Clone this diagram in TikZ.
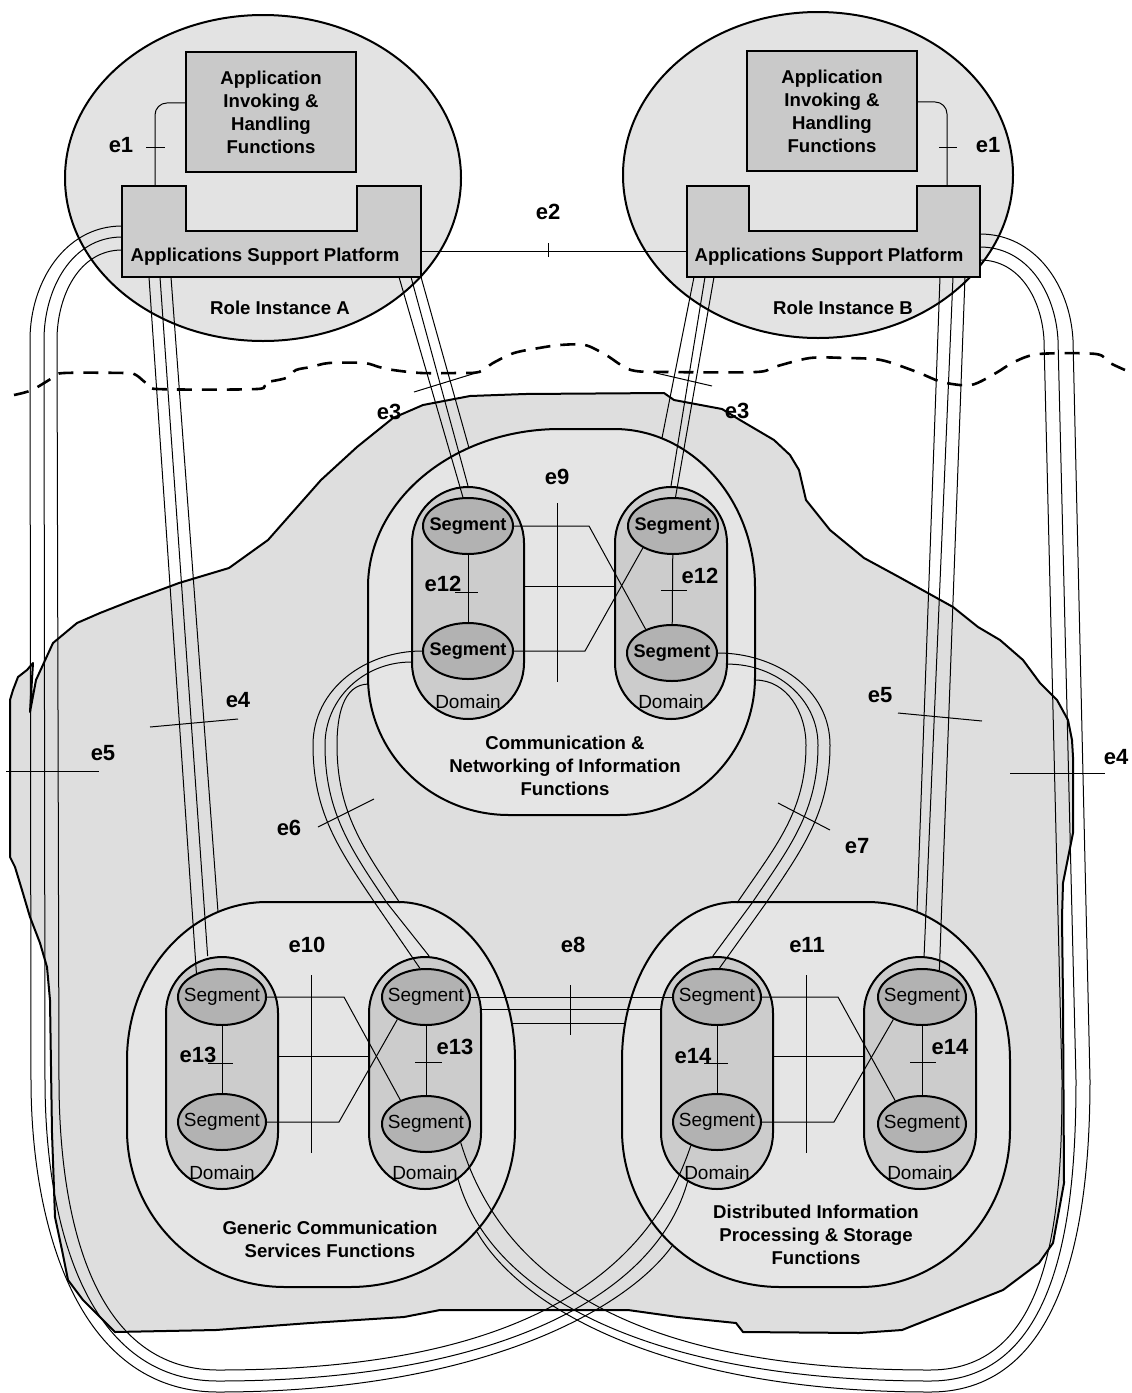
\documentclass[tikz,border=0pt]{standalone}
\usepackage{fontspec}
\setmainfont{Liberation Sans}
\usepackage{tikz}
\usetikzlibrary{shapes.geometric}
\definecolor{RoleGray}{gray}{0.89}
\definecolor{BlobGray}{gray}{0.87}
\definecolor{HullGray}{gray}{0.9}
\definecolor{BoxGray}{gray}{0.79}
\definecolor{DomainGray}{gray}{0.8}
\definecolor{SegGray}{gray}{0.7}
\newcommand{\capfont}{\fontsize{9.3}{11.5}\selectfont\bfseries}
\newcommand{\elfont}{\fontsize{11}{13}\selectfont\bfseries}
\newcommand{\segfont}{\fontsize{9.5}{11}\selectfont}
\newcommand{\segbfont}{\fontsize{9.1}{11}\selectfont\bfseries}
\newcommand{\seglabel}{\makebox[0pt]{Segment}}

\begin{document}
\begin{tikzpicture}[
  x=0.5pt, y=0.5pt, yscale=-1,
  role/.style={ellipse, draw, line width=1pt, fill=RoleGray, minimum height=163pt, inner sep=0pt},
  appbox/.style={rectangle, draw, line width=1pt, fill=BoxGray, minimum width=85pt, minimum height=60pt, font=\capfont, align=center},
  asp/.style={draw, line width=1pt, fill=DomainGray},
  blob/.style={draw, line width=1pt, fill=BlobGray, line join=round},
  hull/.style={draw, line width=1pt, fill=HullGray},
  dombox/.style={rectangle, rounded corners=28pt, draw, line width=1pt, fill=DomainGray, minimum width=56pt, minimum height=116pt},
  seg/.style={ellipse, draw, line width=1pt, fill=SegGray, minimum width=44pt, minimum height=28pt, inner sep=0pt, font=\segfont},
  segb/.style={seg, minimum width=45pt, font=\segbfont},
  wire/.style={line width=0.5pt},
  wave/.style={line width=1.3pt, dash pattern=on 7.5pt off 5pt},
  elabel/.style={font=\elfont, inner sep=0pt},
  caption/.style={font=\capfont, align=center, inner sep=0pt},
  domlabel/.style={font=\segfont, inner sep=0pt}
]
\useasboundingbox (0,0) rectangle (1131,1393);

% Role instances
\node[role, minimum width=198pt] (riA) at (263,178) {};
\node[role, minimum width=195pt] (riB) at (818,175) {};
\node[caption] (riAl) at (280,308) {Role Instance A};
\node[caption] (riBl) at (843,308) {Role Instance B};

% Shared region
\draw[blob] plot coordinates {(423,405) (470,396) (525,394) (664,393) (674,400) (722,409) (740,420) (774,440) (790,455) (799,470) (806,500) (830,530) (864,558) (899,577) (953,607) (978,627) (1000,640) (1023,660) (1040,683) (1057,700) (1068,720) (1072,740) (1073,757) (1073,833) (1063,883) (1062,917) (1063,1000) (1064,1183) (1053,1243) (1039,1263) (1003,1290) (960,1307) (902,1330) (859,1333) (743,1332) (736,1323) (678,1317) (628,1310) (440,1310) (404,1317) (310,1323) (216,1330) (115,1332) (83,1300) (68,1280) (62,1250) (55,1217) (52,1133) (50,1000) (47,967) (40,943) (30,917) (22,890) (15,867) (10,857) (10,700) (13,690) (18,677) (27,670) (33,663) (30,712) (36,680) (53,643) (77,623) (100,613) (133,600) (179,583) (229,568) (268,540) (321,480) (357,447) (393,418)} -- cycle;

% Boundary
\draw[wave] plot[smooth] coordinates {(14,395) (32,390) (54,377) (64,373) (125,373) (136,375) (146,383) (157,389) (257,389) (264,383) (286,378) (296,370) (311,367) (329,363) (364,363) (379,367) (393,370) (421,373) (457,373) (479,372) (493,363) (514,353) (539,348) (560,345) (585,345) (606,355) (631,370) (667,372) (756,372) (774,367) (810,358) (846,358) (881,360) (917,372) (942,382) (971,385) (996,373) (1014,362) (1039,354) (1096,354) (1110,363) (1125,370)};

% Function groups
\draw[hull] (368,677) -- (368,587) arc[start angle=180, end angle=270, x radius=192, y radius=158] -- (614,429) arc[start angle=270, end angle=360, x radius=141, y radius=158] -- (755,677) arc[start angle=0, end angle=90, x radius=136, y radius=138] -- (509,815) arc[start angle=90, end angle=180, x radius=141, y radius=138] -- cycle;
\draw[hull] (127,1130) -- (127,1060) arc[start angle=180, end angle=270, x radius=140, y radius=158] -- (398,902) arc[start angle=270, end angle=360, x radius=117, y radius=158] -- (515,1130) arc[start angle=0, end angle=90, x radius=165, y radius=157] -- (285,1287) arc[start angle=90, end angle=180, x radius=158, y radius=157] -- cycle;
\draw[hull] (622,1130) -- (622,1060) arc[start angle=180, end angle=270, x radius=115, y radius=158] -- (867,902) arc[start angle=270, end angle=360, x radius=143, y radius=158] -- (1010,1130) arc[start angle=0, end angle=90, x radius=150, y radius=157] -- (780,1287) arc[start angle=90, end angle=180, x radius=158, y radius=157] -- cycle;
\node[caption] (cnif) at (565,766) {Communication \&\\Networking of Information\\Functions};
\node[caption] (gcsf) at (330,1239) {Generic Communication\\Services Functions};
\node[caption] (dipsf) at (816,1235) {Distributed Information\\Processing \& Storage\\Functions};

% Domains
\node[dombox] (dCL) at (468,603) {};
\node[dombox] (dCR) at (671,603) {};
\node[dombox] (dGL) at (222,1073) {};
\node[dombox] (dGR) at (425,1073) {};
\node[dombox] (dPL) at (717,1073) {};
\node[dombox] (dPR) at (920,1073) {};
\node[domlabel] (dCLl) at (468,702) {Domain};
\node[domlabel] (dCRl) at (671,702) {Domain};
\node[domlabel] (dGLl) at (222,1173) {Domain};
\node[domlabel] (dGRl) at (425,1173) {Domain};
\node[domlabel] (dPLl) at (717,1173) {Domain};
\node[domlabel] (dPRl) at (920,1173) {Domain};

% Segments
\node[segb] (sCLt) at (468,526) {\seglabel};
\node[segb] (sCLb) at (468,651) {\seglabel};
\node[segb] (sCRt) at (673,526) {\seglabel};
\node[segb] (sCRb) at (672,653) {\seglabel};
\node[seg] (sGLt) at (222,997) {\seglabel};
\node[seg] (sGLb) at (222,1122) {\seglabel};
\node[seg] (sGRt) at (426,997) {\seglabel};
\node[seg] (sGRb) at (426,1124) {\seglabel};
\node[seg] (sPLt) at (717,997) {\seglabel};
\node[seg] (sPLb) at (717,1122) {\seglabel};
\node[seg] (sPRt) at (922,997) {\seglabel};
\node[seg] (sPRb) at (922,1124) {\seglabel};

% Support platforms and applications
\draw[asp] (122,186) -- (186,186) -- (186,231) -- (357,231) -- (357,186) -- (421,186) -- (421,277) -- (122,277) -- cycle;
\draw[asp] (687,186) -- (749,186) -- (749,231) -- (917,231) -- (917,186) -- (980,186) -- (980,277) -- (687,277) -- cycle;
\node[caption] (aspA) at (265,257) {Applications Support Platform};
\node[caption] (aspB) at (829,257) {Applications Support Platform};
\node[appbox] (appA) at (271,112) {Application\\Invoking \&\\Handling\\Functions};
\node[appbox] (appB) at (832,111) {Application\\Invoking \&\\Handling\\Functions};

% Wire ends
\coordinate (aspAe1) at (155,186);
\coordinate (aspBe1) at (947,186);
\coordinate (aspAr) at (421,251);
\coordinate (aspBl) at (687,251);
\coordinate (a3i) at (399,277);
\coordinate (a3m) at (411,277);
\coordinate (a3o) at (421,277);
\coordinate (a4i) at (149,277);
\coordinate (a4m) at (160,277);
\coordinate (a4o) at (171,277);
\coordinate (a5o) at (122,226);
\coordinate (a5m) at (122,237);
\coordinate (a5i) at (122,250);
\coordinate (b3o) at (694,277);
\coordinate (b3m) at (705,277);
\coordinate (b3i) at (714,277);
\coordinate (b5o) at (940,277);
\coordinate (b5m) at (953,277);
\coordinate (b5i) at (965,277);
\coordinate (b4o) at (980,234);
\coordinate (b4m) at (980,247);
\coordinate (b4i) at (980,260);
\coordinate (h3a) at (469,448);
\coordinate (h3b) at (662,438);
\coordinate (h4) at (218,912);
\coordinate (h5) at (917,912);
\coordinate (h6a) at (369,684);
\coordinate (h6b) at (400,903);
\coordinate (h7a) at (755,680);
\coordinate (h7b) at (737,903);
\coordinate (h8a) at (512,1023);
\coordinate (h8b) at (625,1023);
\coordinate (h5l) at (672,1246);
\coordinate (h4r) at (477,1232);
\coordinate (p5l) at (688,1180);
\coordinate (p4r) at (458,1179);

% e1, e2
\draw[wire, rounded corners=6pt] (appA.174) -| (aspAe1);
\draw[wire, rounded corners=6pt] (appB.6) -| (aspBe1);
\draw[wire] (aspAr) -- (aspBl);

% e3
\draw[wire] (a3i) -- (sCLt.100);
\draw[wire] (a3m) -- (dCL.north);
\draw[wire] (a3o) -- (h3a);
\draw[wire] (b3i) -- (sCRt.85);
\draw[wire] (b3m) -- (dCR.north);
\draw[wire] (b3o) -- (h3b);

% e4, e5 straight
\draw[wire] (a4i) -- (sGLt.137);
\draw[wire] (a4m) -- (dGL.97);
\draw[wire] (a4o) -- (h4);
\draw[wire] (b5i) -- (sPRt.57);
\draw[wire] (b5m) -- (dPR.88);
\draw[wire] (b5o) -- (h5);

% e5 round the left
\draw[wire] (a5o) to[out=180,in=270] (30,340) -- (31,1080) to[out=90,in=180] (218,1392) .. controls (478,1392) and (626,1310) .. (h5l);
\draw[wire] (a5m) to[out=180,in=270] (44,340) -- (45,1080) to[out=90,in=180] (218,1381) .. controls (488,1381) and (656,1300) .. (p5l);
\draw[wire] (a5i) to[out=180,in=270] (57,340) -- (59,1080) to[out=90,in=180] (218,1370) .. controls (488,1370) and (641,1295) .. (sPLb.222);

% e4 round the right
\draw[wire] (b4o) to[out=0,in=267] (1073,340) -- (1090,1080) to[out=90,in=0] (930,1392) .. controls (670,1392) and (522,1310) .. (h4r);
\draw[wire] (b4m) to[out=0,in=267] (1058,340) -- (1076,1080) to[out=90,in=0] (930,1381) .. controls (660,1381) and (492,1300) .. (p4r);
\draw[wire] (b4i) to[out=0,in=267] (1044,340) -- (1062,1080) to[out=90,in=0] (930,1370) .. controls (660,1370) and (507,1295) .. (sGRb.332);

% e6, e7
\draw[wire] (sCLb.west) to[out=180,in=270] (313,745) to[out=90,in=236] (375,903) -- (sGRt.102);
\draw[wire] (dCL.226) to[out=180,in=270] (325,745) to[out=90,in=236] (387,903) -- (dGR.88);
\draw[wire] (h6a) to[out=180,in=270] (337,745) to[out=90,in=236] (h6b);
\draw[wire] (sCRb.east) to[out=0,in=270] (830,745) to[out=90,in=304] (766,903) -- (sPLt.85);
\draw[wire] (dCR.313) to[out=0,in=270] (818,745) to[out=90,in=304] (752,903) -- (dPL.92);
\draw[wire] (h7a) to[out=0,in=270] (806,745) to[out=90,in=304] (h7b);

% e8
\draw[wire] (sGRt.east) -- (sPLt.west);
\draw[wire] (dGR.48) -- (dPL.132);
\draw[wire] (h8a) -- (h8b);

% inside the groups
\draw[wire] (sCLt) -- (sCLb);
\draw[wire] (sCRt) -- (sCRb);
\draw[wire] (sCLt.east) -- ++(75,0) -- (sCRb.138);
\draw[wire] (dCL.16) -- (dCR.164);
\draw[wire] (sCLb.east) -- ++(71,0) -- (sCRt.216);
\draw[wire] (sGLt) -- (sGLb);
\draw[wire] (sGRt) -- (sGRb);
\draw[wire] (sGLt.east) -- ++(77,0) -- (sGRb.137);
\draw[wire] (dGL.16) -- (dGR.164);
\draw[wire] (sGLb.east) -- ++(72,0) -- (sGRt.218);
\draw[wire] (sPLt) -- (sPLb);
\draw[wire] (sPRt) -- (sPRb);
\draw[wire] (sPLt.east) -- ++(76,0) -- (sPRb.139);
\draw[wire] (dPL.16) -- (dPR.164);
\draw[wire] (sPLb.east) -- ++(72,0) -- (sPRt.218);

% reference point ticks
\draw[wire] (146,147) -- (165,147);
\draw[wire] (939,147) -- (957,147);
\draw[wire] (548,243) -- (548,257);
\draw[wire] (414,392) -- (479,372);
\draw[wire] (656,373) -- (712,386);
\draw[wire] (150,727) -- (238,719);
\draw[wire] (1010,773) -- (1105,773);
\draw[wire] (6,771) -- (99,771);
\draw[wire] (898,713) -- (982,721);
\draw[wire] (318,827) -- (374,799);
\draw[wire] (778,803) -- (830,830);
\draw[wire] (570,985) -- (570,1035);
\draw[wire] (557,503) -- (557,682);
\draw[wire] (311,975) -- (311,1153);
\draw[wire] (806,975) -- (806,1153);
\draw[wire] (455,592) -- (478,592);
\draw[wire] (661,590) -- (687,590);
\draw[wire] (208,1063) -- (233,1063);
\draw[wire] (415,1062) -- (442,1062);
\draw[wire] (704,1063) -- (728,1063);
\draw[wire] (910,1062) -- (936,1062);

% reference point names
\node[elabel] (e1A) at (121,145) {e1};
\node[elabel] (e1B) at (988,145) {e1};
\node[elabel] (e2) at (548,212) {e2};
\node[elabel] (e3A) at (389,412) {e3};
\node[elabel] (e3B) at (737,411) {e3};
\node[elabel] (e4A) at (238,700) {e4};
\node[elabel] (e4B) at (1116,757) {e4};
\node[elabel] (e5A) at (103,753) {e5};
\node[elabel] (e5B) at (880,695) {e5};
\node[elabel] (e6) at (289,828) {e6};
\node[elabel] (e7) at (857,846) {e7};
\node[elabel] (e8) at (573,945) {e8};
\node[elabel] (e9) at (557,477) {e9};
\node[elabel] (e10) at (307,945) {e10};
\node[elabel] (e11) at (807,945) {e11};
\node[elabel] (e12A) at (443,584) {e12};
\node[elabel] (e12B) at (700,576) {e12};
\node[elabel] (e13A) at (198,1055) {e13};
\node[elabel] (e13B) at (455,1047) {e13};
\node[elabel] (e14A) at (693,1056) {e14};
\node[elabel] (e14B) at (950,1047) {e14};
\end{tikzpicture}
\end{document}
